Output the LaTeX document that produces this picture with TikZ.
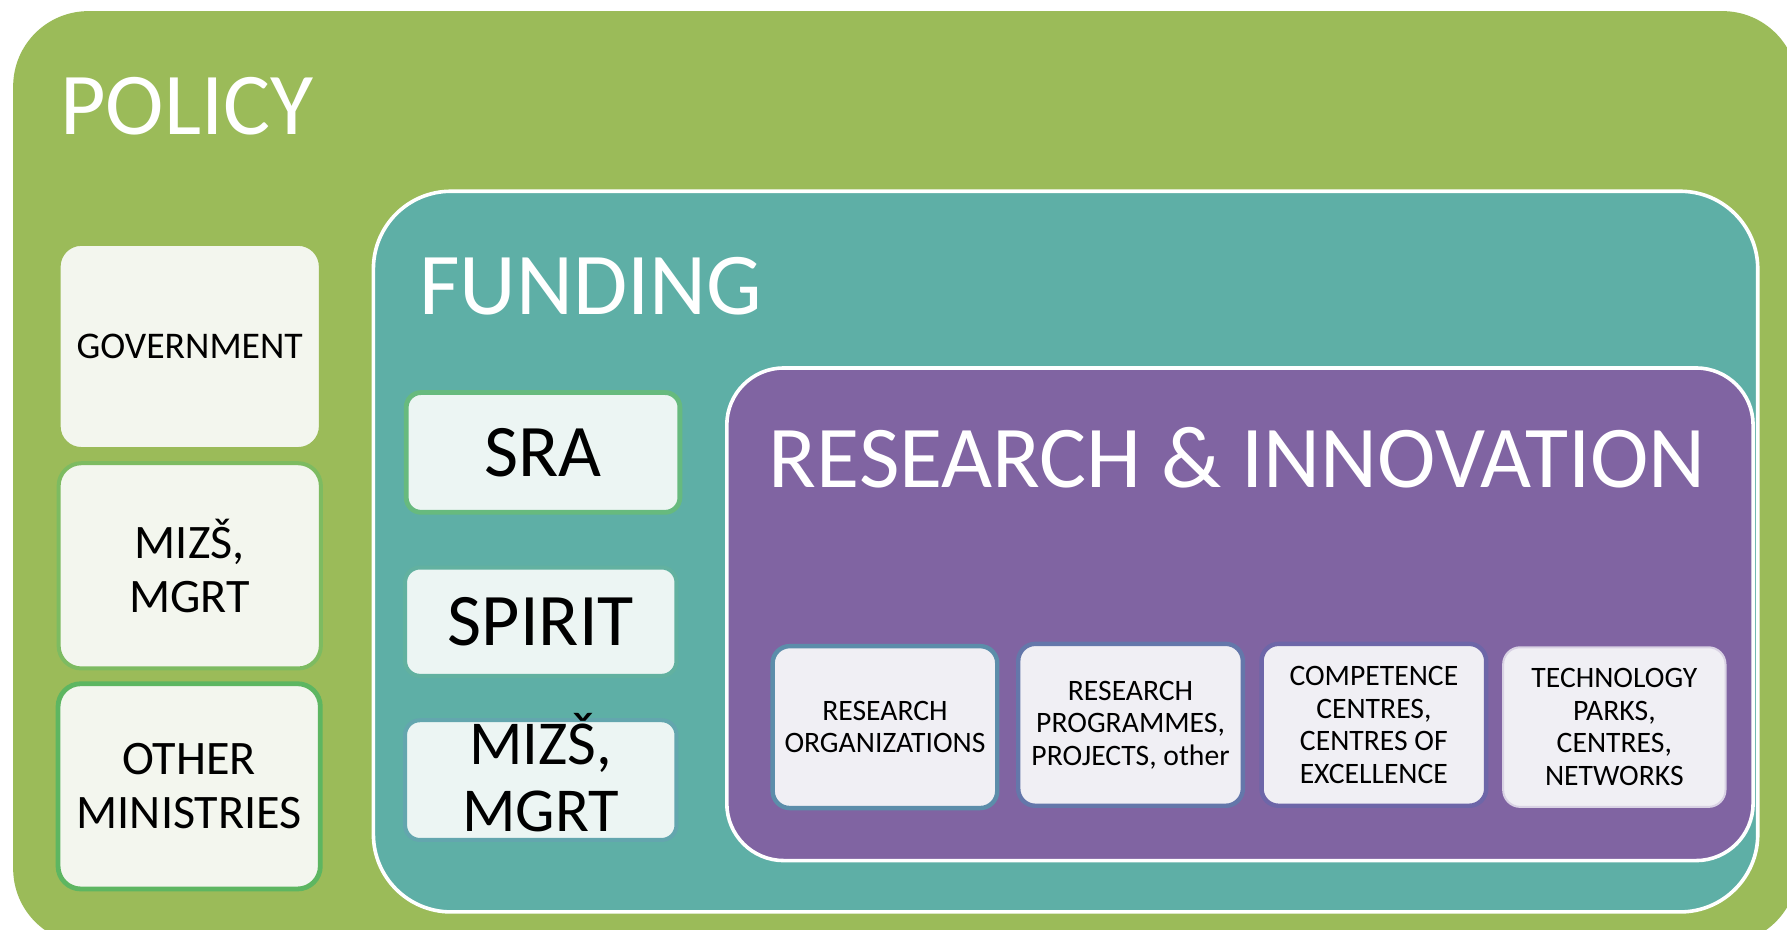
\documentclass[tikz,border=0pt]{standalone}
\usepackage{fontspec}
\setmainfont{Carlito}
\definecolor{policygreen}{HTML}{9BBB59}
\definecolor{fundteal}{HTML}{5EAFA6}
\definecolor{ripurple}{HTML}{8064A2}
\definecolor{polbox}{HTML}{F3F6EE}
\definecolor{fundbox}{HTML}{ECF5F3}
\definecolor{ribox}{HTML}{F0EFF4}
\definecolor{mizsline}{HTML}{7DBB61}
\definecolor{otherline}{HTML}{5DB661}
\definecolor{sraline}{HTML}{67BA7E}
\definecolor{spiritline}{HTML}{62B1A0}
\definecolor{mizsfline}{HTML}{63A6AE}
\definecolor{orgline}{HTML}{5C8DAA}
\definecolor{progline}{HTML}{6477AA}
\definecolor{competline}{HTML}{6D66A8}
\definecolor{techline}{HTML}{D9D2E4}
\begin{document}
\begin{tikzpicture}[x=0.01cm,y=-0.01cm,
	area/.style={rounded corners=#1,line width=0.9pt},
	title/.style={text=white,anchor=base west,font=\fontsize{22}{26}\selectfont},
	polcard/.style={fill=polbox,rounded corners=0.2cm,line width=1pt,align=center,
		minimum width=2.3cm,minimum height=1.8cm},
	fundcard/.style={fill=fundbox,rounded corners=0.13cm,line width=1pt,align=center,
		minimum width=2.38cm},
	ricard/.style={fill=ribox,rounded corners=0.15cm,line width=1.1pt,align=center,
		minimum width=1.97cm,minimum height=1.42cm,font=\fontsize{7.4}{8.1}\selectfont}]
	\tikzstyle{every node}+=[inner sep=0pt]
	\useasboundingbox (0,0) rectangle (1568,816);
	\clip (0,0) rectangle (1568,816);
	\node [area=0.66cm,fill=policygreen,minimum width=15.65cm,minimum height=8.18cm] (policy) at (794.5,419) {};
	\node [title] (policytitle) at (52,118) {POLICY};
	\node [polcard,draw=policygreen,font=\fontsize{9.4}{11}\selectfont] (gov) at (166.5,304) {GOVERNMENT};
	\node [polcard,draw=mizsline,font=\fontsize{12}{13.4}\selectfont] (mizspol) at (166.5,496.5) {MIZŠ,\\MGRT};
	\node [polcard,draw=otherline,line width=1.2pt,font=\fontsize{12}{13.4}\selectfont] (otherpol) at (166,690) {OTHER\\MINISTRIES};
	\node [area=0.68cm,draw=white,fill=fundteal,minimum width=12.14cm,minimum height=6.32cm] (funding) at (935,484) {};
	\node [title] (fundingtitle) at (367,276) {FUNDING};
	\node [fundcard,draw=sraline,line width=1.2pt,minimum width=2.4cm,minimum height=1.05cm,font=\fontsize{18.5}{20}\selectfont] (sra) at (476.5,397) {SRA};
	\node [fundcard,draw=spiritline,minimum height=0.95cm,font=\fontsize{18.5}{20}\selectfont] (spirit) at (474.5,545.5) {SPIRIT};
	\node [fundcard,draw=mizsfline,minimum height=1.05cm,
		label={[align=center,yshift=0.065cm,font=\fontsize{15.6}{16.5}\selectfont]center:{MIZŠ,\\MGRT}}] (mizsfund) at (474.5,684.5) {};
	\node [area=0.5cm,draw=white,fill=ripurple,minimum width=9cm,minimum height=4.32cm] (research) at (1088,539) {};
	\node [title] (researchtitle) at (674,428) {RESEARCH \& INNOVATION};
	\node [ricard,draw=orgline] (resorg) at (776.5,638) {RESEARCH\\ORGANIZATIONS};
	\node [ricard,draw=progline] (resprog) at (992,636) {RESEARCH\\PROGRAMMES,\\PROJECTS, other};
	\node [ricard,draw=competline] (compet) at (1205.5,636) {COMPETENCE\\CENTRES,\\CENTRES OF\\EXCELLENCE};
	\node [ricard,draw=techline,line width=0.5pt,minimum width=1.95cm,minimum height=1.4cm] (techpark) at (1416.5,638) {TECHNOLOGY\\PARKS,\\CENTRES,\\NETWORKS};
\end{tikzpicture}
\end{document}
